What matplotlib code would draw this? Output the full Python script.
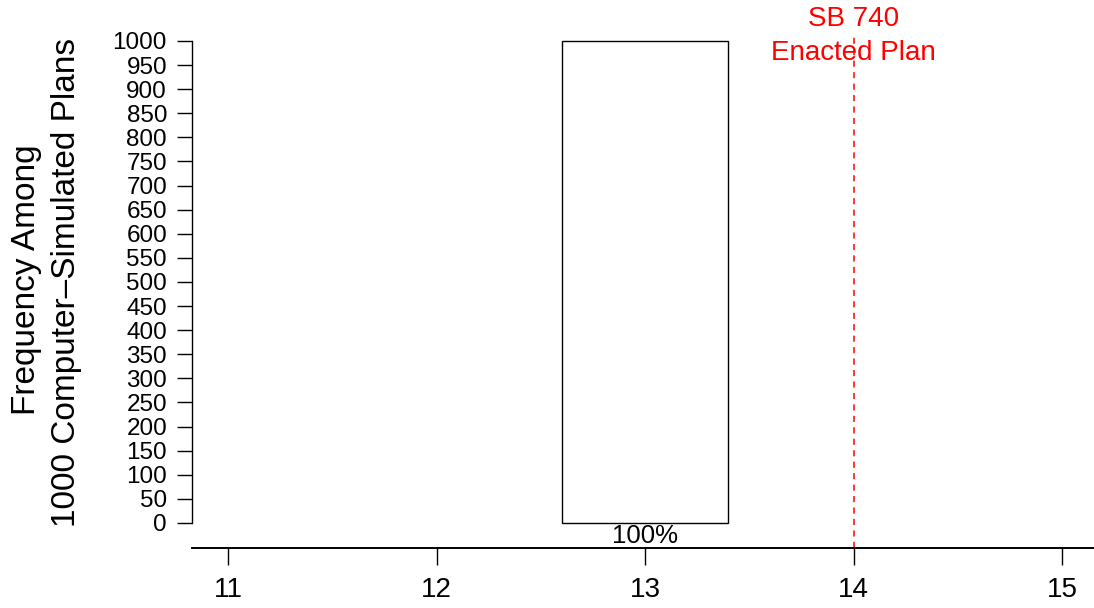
import matplotlib
matplotlib.use("Agg")
import matplotlib.pyplot as plt

plt.rcParams['font.family'] = ['Liberation Sans', 'DejaVu Sans']

# seats won (x) and how many of 1000 simulated plans got that many
seats = [11, 12, 13, 14, 15]
counts = [0, 0, 1000, 0, 0]
n_sims = 1000
enacted = 14
enacted_lines = ["SB 740", "Enacted Plan"]
yticks = list(range(0, 1001, 50))

W, H = 1094, 608
fig = plt.figure(figsize=(W / 100, H / 100), dpi=100)
ax = fig.add_axes([192 / W, (H - 548) / H, (W - 192) / W, 548 / H])

for s, c in zip(seats, counts):
    if c > 0:
        ax.bar(s, c, width=0.8, color='white', edgecolor='black', linewidth=1.0)
        ax.text(s, -3, "%d%%" % round(100 * c / n_sims), ha='center', va='top', fontsize=18.5)

# enacted plan marker, from just under the label down to the x axis
ax.axvline(enacted, ymin=0, ymax=(548 - 33) / 548, color='red',
           linestyle=(0, (4, 3.5)), linewidth=1.1)
trans = ax.get_xaxis_transform()
ax.text(enacted, (548 - 19) / 548, enacted_lines[0], color='red', ha='center',
        va='center', fontsize=20, transform=trans)
ax.text(enacted, (548 - 53) / 548, enacted_lines[1], color='red', ha='center',
        va='center', fontsize=20, transform=trans)

ax.set_xlim(10.827, 15.153)
ax.set_ylim(-51.9, 1085)
ax.set_xticks(seats)
ax.set_yticks(yticks)
ax.tick_params(axis='y', labelsize=17.5, length=11, width=1.0, pad=7)
ax.tick_params(axis='x', labelsize=20, length=12, width=1.0, pad=9)
for sp in ['top', 'right']:
    ax.spines[sp].set_visible(False)
ax.spines['left'].set_bounds(0, 1000)
ax.spines['left'].set_linewidth(1.0)
ax.spines['bottom'].set_linewidth(1.4)

fig.text(27 / W, 1 - 280 / H, "Frequency Among", rotation=90, ha='center', va='center', fontsize=24)
fig.text(67 / W, 1 - 282 / H, "1000 Computer\u2013Simulated Plans", rotation=90, ha='center', va='center', fontsize=24)

fig.savefig("out.png", dpi=100)
